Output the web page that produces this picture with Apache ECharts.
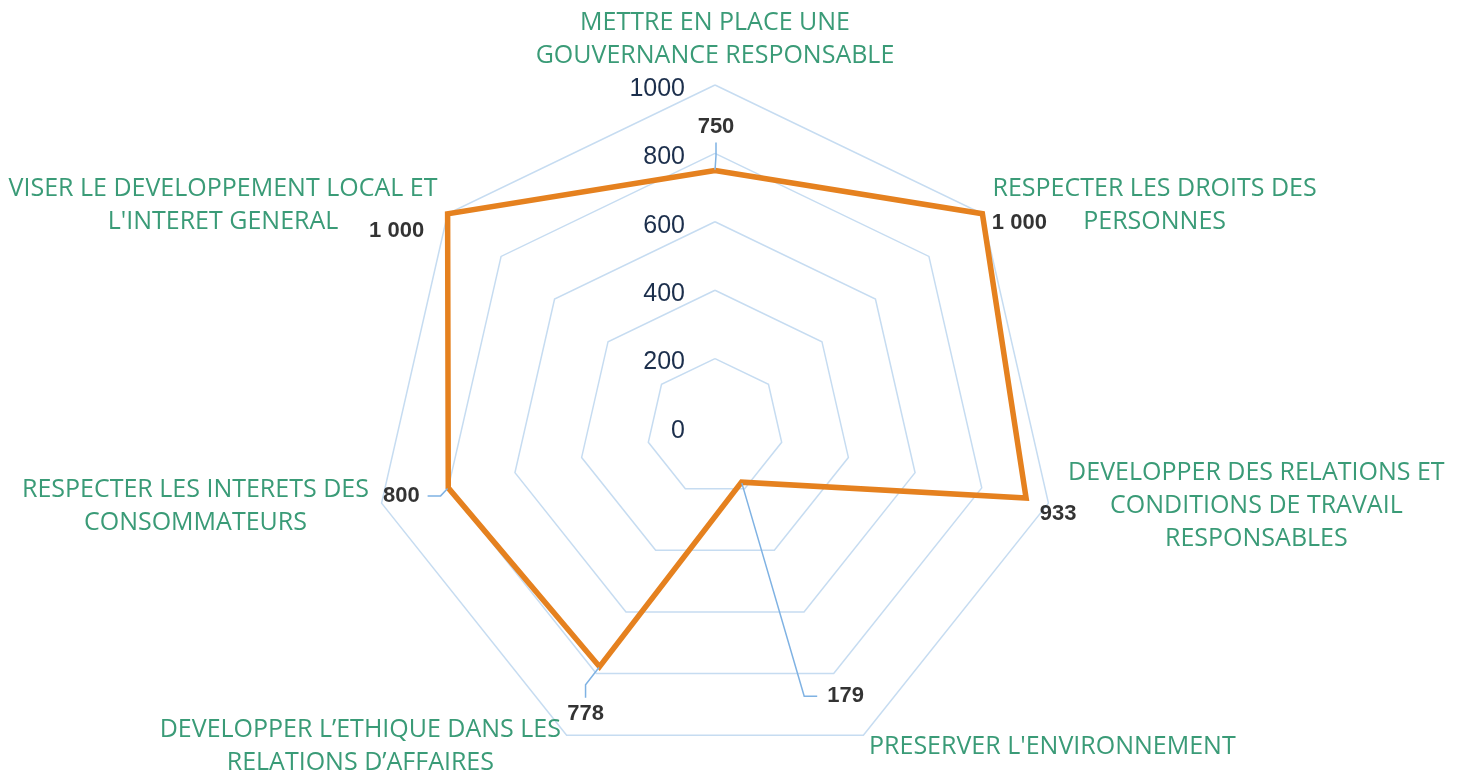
<!DOCTYPE html>
<html><head><meta charset="utf-8">
<script src="https://cdn.jsdelivr.net/npm/echarts@6/dist/echarts.min.js"></script>
<style>html,body{margin:0;padding:0;background:#fff}#c{width:1465px;height:773px}</style>
</head><body><div id="c"></div>
<script>
// Categories listed clockwise from the top axis
const categories = [
  "METTRE EN PLACE UNE\nGOUVERNANCE RESPONSABLE",
  "RESPECTER LES DROITS DES\nPERSONNES",
  "DEVELOPPER DES RELATIONS ET\nCONDITIONS DE TRAVAIL\nRESPONSABLES",
  "PRESERVER L'ENVIRONNEMENT",
  "DEVELOPPER L\u2019ETHIQUE DANS LES\nRELATIONS D\u2019AFFAIRES",
  "RESPECTER LES INTERETS DES\nCONSOMMATEURS",
  "VISER LE DEVELOPPEMENT LOCAL ET\nL'INTERET GENERAL"
];
const values = [750, 1000, 933, 179, 778, 800, 1000];
const axisMin = 0;
const axisMax = 1000;
const axisStep = 200;

// value-label placement styling (offset from the vertex, padding, leader line on/off), clockwise order
const labelPlacement = [
  {offset: [1, -44], padding: [5, 8], line: true},
  {offset: [37, 9], padding: [5, 8], line: false},
  {offset: [32, 16], padding: [5, 8], line: false},
  {offset: [149, 214], padding: [0, 100, 0, 10], line: true},
  {offset: [-14, 47], padding: [5, 8], line: true},
  {offset: [-47, 8], padding: [5, 8], line: true},
  {offset: [-51, 17], padding: [5, 8], line: false}
];
// extra horizontal shift of axis-name blocks (styling), clockwise order
const nameShift = [0, 0, 7, 0, 0, 0, 0];

const CX = 715, CY = 427, R = 342;

// ECharts places radar indicators counter-clockwise: reorder for the radar
const order = [0, 6, 5, 4, 3, 2, 1];
const ecNames = order.map(i => categories[i]);
const ecValues = order.map(i => values[i]);

const fmtNum = v => String(v).replace(/\B(?=(\d{3})+(?!\d))/g, ' ');

const tickStyle = {color: '#1c2f4c', fontSize: 25, fontFamily: 'Liberation Sans, Arial, sans-serif'};
const indicators = ecNames.map((n, k) => {
  const ind = {name: n, min: axisMin, max: axisMax};
  if (k === 0) {
    ind.axisLabel = Object.assign({
      show: true, margin: 30, align: 'right', verticalAlign: 'middle',
      formatter: v => '{t|' + v + '}',
      rich: {t: Object.assign({padding: [8, 0, 0, 0]}, tickStyle)}
    }, tickStyle);
  }
  return ind;
});

const labelData = values.map((v, i) => ({
  value: [v, i],
  label: {offset: labelPlacement[i].offset, padding: labelPlacement[i].padding},
  labelLine: {show: labelPlacement[i].line}
}));

const nameStyle = {color: '#3a9b77', fontSize: 25, fontFamily: 'Open Sans, sans-serif', lineHeight: 33};
const nameRich = {};
categories.forEach((c, i) => {
  nameRich['n' + i] = Object.assign({align: 'center', padding: [0, 0, 0, nameShift[i]]}, nameStyle);
});

const chart = echarts.init(document.getElementById('c'), null, {renderer: 'canvas'});
chart.setOption({
  animation: false,
  backgroundColor: '#ffffff',
  radar: {
    center: [CX, CY],
    radius: R,
    shape: 'polygon',
    splitNumber: (axisMax - axisMin) / axisStep,
    startAngle: 90,
    indicator: indicators,
    nameGap: 13,
    axisName: Object.assign({}, nameStyle, {
      formatter: n => {
        const key = 'n' + categories.indexOf(n);
        return n.split('\n').map(l => '{' + key + '|' + l + '}').join('\n');
      },
      rich: nameRich
    }),
    axisLine: {show: false},
    axisTick: {show: false},
    axisLabel: {show: false},
    splitLine: {lineStyle: {color: '#c6dcf1', width: 1.5}},
    splitArea: {show: false}
  },
  polar: {center: [CX, CY], radius: R},
  angleAxis: {
    type: 'category', data: categories.map((c, i) => i), boundaryGap: false,
    startAngle: 90, clockwise: true,
    axisLine: {show: false}, axisTick: {show: false}, axisLabel: {show: false}, splitLine: {show: false}
  },
  radiusAxis: {
    type: 'value', min: axisMin, max: axisMax,
    axisLine: {show: false}, axisTick: {show: false}, axisLabel: {show: false}, splitLine: {show: false}
  },
  series: [{
    type: 'radar',
    silent: true,
    symbol: 'none',
    lineStyle: {color: '#e5811f', width: 5.5, join: 'miter'},
    itemStyle: {color: '#e5811f'},
    data: [{value: ecValues}],
    z: 3
  }, {
    type: 'scatter',
    coordinateSystem: 'polar',
    silent: true,
    symbol: 'circle',
    symbolSize: 2,
    itemStyle: {color: 'transparent'},
    label: {
      show: true, position: 'inside', align: 'center', verticalAlign: 'middle',
      color: '#000000', fontSize: 22, fontWeight: 'bold',
      fontFamily: 'Liberation Sans, Arial, sans-serif',
      backgroundColor: 'rgba(255,255,255,0)',
      formatter: p => fmtNum(p.value[0])
    },
    labelLine: {length2: 13, lineStyle: {color: '#7fb2e3', width: 1.5}},
    data: labelData,
    z: 4
  }]
});
</script></body></html>
